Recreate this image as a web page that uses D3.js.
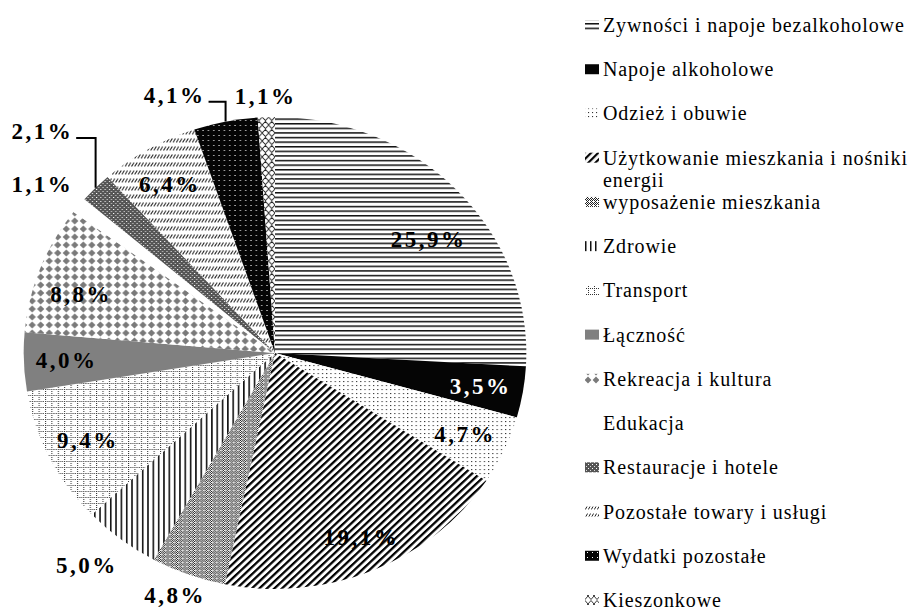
<!DOCTYPE html>
<html>
<head>
<meta charset="utf-8">
<script src="https://cdn.jsdelivr.net/npm/d3@7"></script>
<style>
  body { margin: 0; background: #fff; }
  svg { display: block; }
</style>
</head>
<body>
<div class="chart"></div>
<script>
// categories and shares (clockwise from 12 o'clock)
var categories = [
  "Zywności i napoje bezalkoholowe",
  "Napoje alkoholowe",
  "Odzież i obuwie",
  "Użytkowanie mieszkania i nośniki energii",
  "wyposażenie mieszkania",
  "Zdrowie",
  "Transport",
  "Łączność",
  "Rekreacja i kultura",
  "Edukacja",
  "Restauracje i hotele",
  "Pozostałe towary i usługi",
  "Wydatki pozostałe",
  "Kieszonkowe"
];
var shares = [25.9, 3.5, 4.7, 19.1, 4.8, 5.0, 9.4, 4.0, 8.8, 1.1, 2.1, 6.4, 4.1, 1.1];

// legend lines (item 4 wraps)
var legendLines = [
  ["Zywności i napoje bezalkoholowe"],
  ["Napoje alkoholowe"],
  ["Odzież i obuwie"],
  ["Użytkowanie mieszkania i nośniki", "energii"],
  ["wyposażenie mieszkania"],
  ["Zdrowie"],
  ["Transport"],
  ["Łączność"],
  ["Rekreacja i kultura"],
  ["Edukacja"],
  ["Restauracje i hotele"],
  ["Pozostałe towary i usługi"],
  ["Wydatki pozostałe"],
  ["Kieszonkowe"]
];

// label placement (radius factor, angle shift in degrees)
var labelRadius = [0.78, 0.83, 0.83, 0.85, 1.1, 1.17, 0.83, 0.83, 0.81, 1.17, 1.32, 0.83, 1.165, 1.09];
var labelShift = [5, 0, 0, -1, 1, 2, 0, 0, -3, -1, 1, 0, -8.7, 0];
var leaderLines = [10, 12];

var svgWidth = 922, svgHeight = 610;
var cx = 275, cy = 353, R = 236, sx = 1.065;

var svg = d3.select(".chart").append("svg")
  .attr("width", svgWidth)
  .attr("height", svgHeight);

var defs = svg.append("defs");

function pat(id, w, h, rot) {
  var p = defs.append("pattern")
    .attr("id", id)
    .attr("patternUnits", "userSpaceOnUse")
    .attr("width", w)
    .attr("height", h);
  if (rot) p.attr("patternTransform", "rotate(" + rot + ")");
  p.append("rect").attr("width", w).attr("height", h).attr("fill", "#fff");
  return p;
}

// 0 horizontal lines
pat("p0", 8, 4.6).append("rect").attr("width", 8).attr("height", 1.5).attr("fill", "#111");
// 1 solid black
pat("p1", 4, 4).append("rect").attr("width", 4).attr("height", 4).attr("fill", "#050505");
// 2 sparse dots
pat("p2", 4, 4).append("rect").attr("width", 1.1).attr("height", 1.1).attr("fill", "#333");
// 3 thick diagonal "/"
pat("p3", 5, 5, 45).append("rect").attr("width", 2.2).attr("height", 5).attr("fill", "#000");
// 4 fine dither gray
(function() {
  var p = pat("p4", 4, 4);
  [[0,0],[2,0],[1,1],[3,1],[0,2],[2,2],[1,3],[3,3]].forEach(function(c) {
    p.append("rect").attr("x", c[0]).attr("y", c[1]).attr("width", 1).attr("height", 1).attr("fill", "#222");
  });
  p.append("rect").attr("x", 1).attr("y", 1).attr("width", 1).attr("height", 1).attr("fill", "#fff");
})();
// 5 vertical lines
pat("p5", 5, 8).append("rect").attr("width", 1.5).attr("height", 8).attr("fill", "#111");
// 6 dotted grid
(function() {
  var p = pat("p6", 6, 6);
  [[0,0],[2,0],[4,0],[0,2],[0,4]].forEach(function(c) {
    p.append("rect").attr("x", c[0]).attr("y", c[1]).attr("width", 1).attr("height", 1).attr("fill", "#333");
  });
})();
// 7 solid gray
pat("p7", 4, 4).append("rect").attr("width", 4).attr("height", 4).attr("fill", "#808080");
// 8 gray diamonds
pat("p8", 8, 8).append("polygon").attr("points", "4,0.6 7.4,4 4,7.4 0.6,4").attr("fill", "#7a7a7a");
// 9 white
pat("p9", 4, 4);
// 10 darker dither gray
(function() {
  var p = pat("p10", 4, 4);
  p.select("rect").attr("fill", "#555");
  p.append("rect").attr("x", 0).attr("y", 0).attr("width", 1).attr("height", 1).attr("fill", "#fff");
  p.append("rect").attr("x", 2).attr("y", 2).attr("width", 1).attr("height", 1).attr("fill", "#ddd");
})();
// 11 short slanted dashes in rows
pat("p11", 3, 8).append("line")
  .attr("x1", 0.3).attr("y1", 5.5).attr("x2", 2.6).attr("y2", 1.5)
  .attr("stroke", "#222").attr("stroke-width", 1);
// 12 black with white dots
(function() {
  var p = pat("p12", 5, 5);
  p.select("rect").attr("fill", "#050505");
  p.append("rect").attr("x", 2).attr("y", 2).attr("width", 1).attr("height", 1).attr("fill", "#fff");
})();
// 13 chain zigzag
pat("p13", 6, 8).append("path")
  .attr("d", "M0,4 L3,0.5 L6,4 L3,7.5 Z")
  .attr("fill", "none").attr("stroke", "#222").attr("stroke-width", 0.9);

var pie = d3.pie().sort(null).value(function(d) { return d; });
var arcs = pie(shares);

var arc = d3.arc().innerRadius(0).outerRadius(R);

var pieGroup = svg.append("g")
  .attr("transform", "translate(" + cx + "," + cy + ") scale(" + sx + ",1)");

pieGroup.selectAll("path")
  .data(arcs)
  .enter()
  .append("path")
  .attr("d", arc)
  .attr("fill", function(d, i) { return "url(#p" + i + ")"; });

// helper: point on the (elliptic) pie at angle a, radius r
function pt(a, r) {
  return [cx + sx * r * Math.sin(a), cy - r * Math.cos(a)];
}

var locale = d3.formatLocale({ decimal: ",", thousands: " ", grouping: [3], currency: ["", " zł"] });
var fmt = locale.format(".1f");

var labels = svg.append("g")
  .attr("font-family", "'Liberation Serif', 'DejaVu Serif', serif")
  .attr("font-weight", "bold")
  .attr("font-size", 23)
  .attr("letter-spacing", 2.5);

arcs.forEach(function(d, i) {
  var mid = (d.startAngle + d.endAngle) / 2;
  var a = mid + labelShift[i] * Math.PI / 180;
  var p = pt(a, R * labelRadius[i]);
  var t = labels.append("text")
    .attr("x", p[0])
    .attr("y", p[1])
    .attr("dy", "0.35em")
    .attr("text-anchor", "middle")
    .attr("fill", i === 1 ? "#fff" : "#000")
    .text(fmt(shares[i]) + "%");

  if (leaderLines.indexOf(i) >= 0) {
    var w = t.node().getComputedTextLength();
    var end = pt(mid, R);
    var ly = p[1] + 7;
    svg.append("path")
      .attr("d", "M" + (p[0] + w / 2 + 3) + "," + ly + "H" + end[0] + "V" + end[1])
      .attr("fill", "none")
      .attr("stroke", "#000")
      .attr("stroke-width", 2);
  }
});

// legend
var legend = svg.append("g")
  .attr("font-family", "'Liberation Serif', 'DejaVu Serif', serif")
  .attr("font-size", 20)
  .attr("letter-spacing", 0.9)
  .attr("fill", "#000");

var rowY = d3.scaleLinear().domain([0, categories.length - 1]).range([25, 600]);

legendLines.forEach(function(lines, i) {
  var y = rowY(i);
  legend.append("rect")
    .attr("x", 585)
    .attr("y", y - 5)
    .attr("width", 14)
    .attr("height", 10)
    .attr("fill", "url(#p" + i + ")");
  var t = legend.append("text")
    .attr("x", 603)
    .attr("y", y);
  lines.forEach(function(s, k) {
    t.append("tspan").attr("x", 603).attr("dy", k === 0 ? "0.35em" : "1.1em").text(s);
  });
});
</script>
</body>
</html>
